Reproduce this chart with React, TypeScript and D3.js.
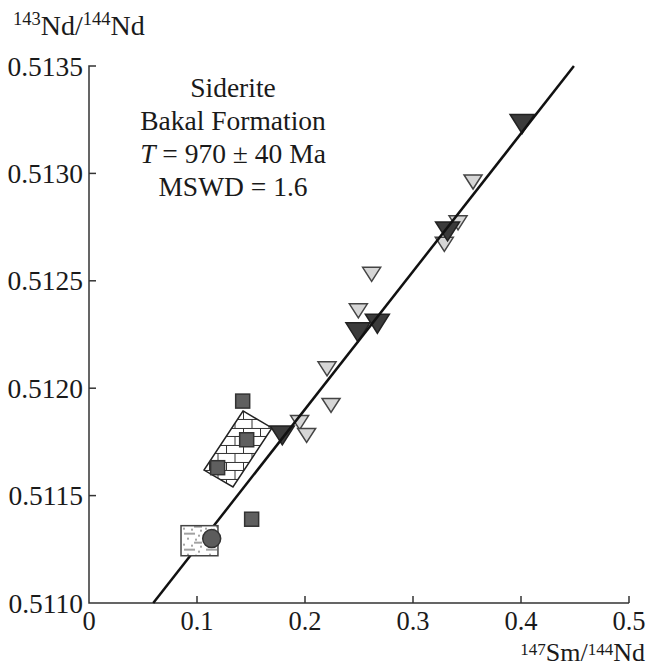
import { useEffect, useRef } from 'react';
import * as d3 from 'd3';

const width = 648;
const height = 667;
const margin = { top: 66, right: 19, bottom: 64, left: 89 };

// axis ticks
const xTicks = [0, 0.1, 0.2, 0.3, 0.4, 0.5];
const yTicks = [0.511, 0.5115, 0.512, 0.5125, 0.513, 0.5135];

// siderite, dark triangles
const darkX = [0.179, 0.249, 0.267, 0.332, 0.401];
const darkY = [0.51178, 0.51226, 0.5123, 0.51273, 0.51323];

// siderite, light triangles
const lightX = [0.195, 0.2015, 0.2204, 0.2241, 0.2494, 0.2617, 0.329, 0.3417, 0.3556];
const lightY = [0.51184, 0.51178, 0.51209, 0.51192, 0.51236, 0.51253, 0.51267, 0.51277, 0.51296];

// squares
const sqX = [0.1423, 0.146, 0.1191, 0.1506];
const sqY = [0.51194, 0.51176, 0.51163, 0.51139];

// circle
const circX = [0.1136];
const circY = [0.5113];

// isochron end points
const isoX = [0.0595, 0.449];
const isoY = [0.511, 0.5135];

// limestone field (brick) and sandstone field
const brickX = [0.1426, 0.1694, 0.1333, 0.1065];
const brickY = [0.511894, 0.511815, 0.51154, 0.511619];
const sandX = [0.0852, 0.1194];
const sandY = [0.51122, 0.51136];

const labelLines = ['Siderite', 'Bakal Formation', 'T = 970 ± 40 Ma', 'MSWD = 1.6'];

const font = "'Liberation Serif', 'DejaVu Serif', serif";

const App = () => {
  const ref = useRef<SVGSVGElement>(null);

  useEffect(() => {
    const svg = d3.select(ref.current);
    svg.selectAll('*').remove();

    const x = d3.scaleLinear().domain([0, 0.5]).range([margin.left, width - margin.right]);
    const y = d3.scaleLinear().domain([0.511, 0.5135]).range([height - margin.bottom, margin.top]);

    const defs = svg.append('defs');

    // brick pattern
    const bp = defs.append('pattern')
      .attr('id', 'brick')
      .attr('patternUnits', 'userSpaceOnUse')
      .attr('width', 17).attr('height', 17)
      .attr('x', x(0.1426)).attr('y', y(0.511894));
    bp.append('rect').attr('width', 17).attr('height', 17).attr('fill', 'white');
    bp.append('path')
      .attr('d', 'M0,0.5H17M0,8.5H17M0.5,0V8.5M9,8.5V17')
      .attr('stroke', '#333').attr('stroke-width', 1).attr('fill', 'none');

    // sandstone pattern
    const sp = defs.append('pattern')
      .attr('id', 'sand')
      .attr('patternUnits', 'userSpaceOnUse')
      .attr('width', 22).attr('height', 16)
      .attr('x', x(sandX[0])).attr('y', y(sandY[1]));
    sp.append('rect').attr('width', 22).attr('height', 16).attr('fill', 'white');
    sp.append('path')
      .attr('d', 'M3,8H14M13,1H21')
      .attr('stroke', '#444').attr('stroke-width', 1);
    [[3, 3], [11, 4], [18, 10], [7, 13], [15, 14], [20, 5]].forEach(([cx, cy]) => {
      sp.append('circle').attr('cx', cx).attr('cy', cy).attr('r', 0.8).attr('fill', '#333');
    });

    // axes
    const g = svg.append('g').attr('stroke', '#333').attr('stroke-width', 1.5).attr('fill', 'none');
    g.append('path').attr('d', `M${x(0) + 7},${y(0.5135)}H${x(0)}V${y(0.511)}H${x(0.5)}`);
    xTicks.slice(1).forEach(t => {
      g.append('line').attr('x1', x(t)).attr('x2', x(t)).attr('y1', y(0.511)).attr('y2', y(0.511) - 7);
    });
    yTicks.slice(1, -1).forEach(t => {
      g.append('line').attr('x1', x(0)).attr('x2', x(0) + 7).attr('y1', y(t)).attr('y2', y(t));
    });

    const txt = svg.append('g').style('font-family', font).attr('fill', '#1a1a1a');

    txt.append('g')
      .selectAll('text')
      .data(xTicks)
      .join('text')
      .attr('x', d => x(d))
      .attr('y', y(0.511) + 27)
      .attr('text-anchor', 'middle')
      .style('font-size', '26.5px')
      .text(d => d3.format('')(d));

    txt.append('g')
      .selectAll('text')
      .data(yTicks)
      .join('text')
      .attr('x', x(0) - 6)
      .attr('y', d => y(d))
      .attr('dy', '0.35em')
      .attr('text-anchor', 'end')
      .style('font-size', '27.5px')
      .text(d => d3.format('.4f')(d));

    // axis titles
    const yt = txt.append('text').attr('x', 13).attr('y', 35).style('font-size', '28px');
    yt.append('tspan').style('font-size', '18.5px').attr('dy', -10).text('143');
    yt.append('tspan').attr('dy', 10).text('Nd/');
    yt.append('tspan').style('font-size', '18.5px').attr('dy', -10).text('144');
    yt.append('tspan').attr('dy', 10).text('Nd');

    const xt = txt.append('text').attr('x', 645).attr('y', 661).attr('text-anchor', 'end')
      .style('font-size', '26px');
    xt.append('tspan').style('font-size', '17px').attr('dy', -6).text('147');
    xt.append('tspan').attr('dy', 6).text('Sm/');
    xt.append('tspan').style('font-size', '17px').attr('dy', -6).text('144');
    xt.append('tspan').attr('dy', 6).text('Nd');

    // label block
    labelLines.forEach((s, i) => {
      const t = txt.append('text').attr('x', 233).attr('y', 97 + i * 33)
        .attr('text-anchor', 'middle').style('font-size', '27.5px');
      if (s.startsWith('T ')) {
        t.append('tspan').style('font-style', 'italic').text('T');
        t.append('tspan').text(s.slice(1));
      } else {
        t.text(s);
      }
    });

    // brick field
    svg.append('polygon')
      .attr('points', brickX.map((v, i) => `${x(v)},${y(brickY[i])}`).join(' '))
      .attr('fill', 'url(#brick)')
      .attr('stroke', '#222').attr('stroke-width', 1.5);

    // squares
    svg.append('g')
      .selectAll('rect')
      .data(sqX)
      .join('rect')
      .attr('x', d => x(d) - 7)
      .attr('y', (d, i) => y(sqY[i]) - 7)
      .attr('width', 14).attr('height', 14)
      .attr('fill', '#5f5f5f').attr('stroke', '#333').attr('stroke-width', 1.5);

    const tri = (w: number, h: number) => `M${-w / 2},${-h / 2}H${w / 2}L0,${h / 2}Z`;

    // light triangles
    svg.append('g')
      .selectAll('path')
      .data(lightX)
      .join('path')
      .attr('transform', (d, i) => `translate(${x(d)},${y(lightY[i])})`)
      .attr('d', tri(18, 14))
      .attr('fill', '#d6d6d6').attr('stroke', '#444').attr('stroke-width', 1.5);

    // dark triangles
    svg.append('g')
      .selectAll('path')
      .data(darkX)
      .join('path')
      .attr('transform', (d, i) => `translate(${x(d)},${y(darkY[i])})`)
      .attr('d', tri(24, 19))
      .attr('fill', '#3b3b3b').attr('stroke', '#222').attr('stroke-width', 1.5);

    // isochron
    svg.append('line')
      .attr('x1', x(isoX[0])).attr('y1', y(isoY[0]))
      .attr('x2', x(isoX[1])).attr('y2', y(isoY[1]))
      .attr('stroke', '#111').attr('stroke-width', 2.5);

    // sandstone field
    svg.append('rect')
      .attr('x', x(sandX[0])).attr('y', y(sandY[1]))
      .attr('width', x(sandX[1]) - x(sandX[0]))
      .attr('height', y(sandY[0]) - y(sandY[1]))
      .attr('fill', 'url(#sand)')
      .attr('stroke', '#444').attr('stroke-width', 1.5);

    svg.append('g')
      .selectAll('circle')
      .data(circX)
      .join('circle')
      .attr('cx', d => x(d))
      .attr('cy', (d, i) => y(circY[i]))
      .attr('r', 9)
      .attr('fill', '#5c5c5c').attr('stroke', '#333').attr('stroke-width', 1.5);
  }, []);

  return (
    <svg ref={ref} width={width} height={height}
      style={{ position: 'absolute', left: 0, top: 0, background: 'white' }} />
  );
};

export default App;
